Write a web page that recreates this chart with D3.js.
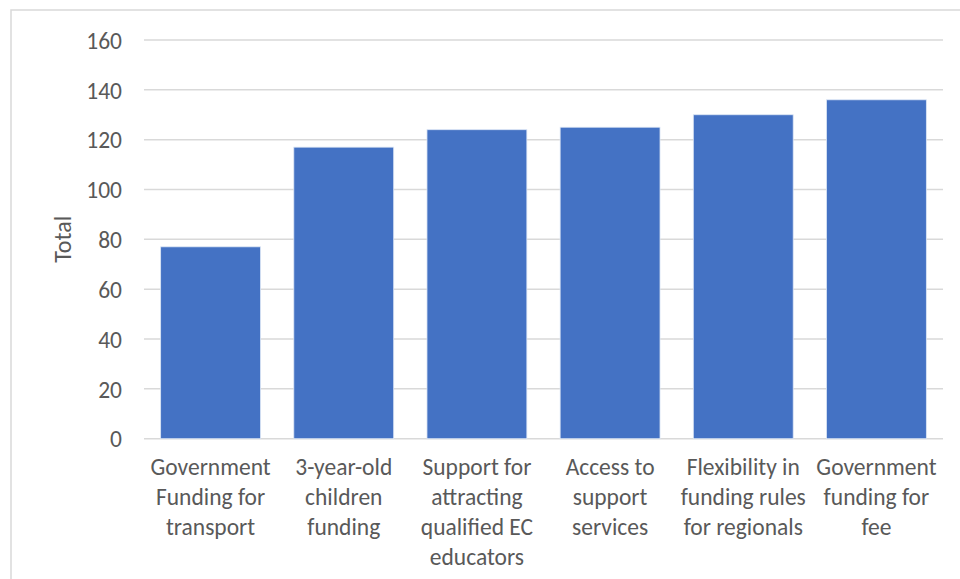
<!DOCTYPE html>
<html>
<head>
<meta charset="utf-8">
<script src="https://cdn.jsdelivr.net/npm/d3@7"></script>
<style>
    body { margin: 0; background: #fff; }
    svg text { font-family: Calibri, Carlito, Lato, "Open Sans", sans-serif; fill: #595959; }
</style>
</head>
<body>
<div class="chart"></div>
<script>
const categories = [
    ["Government", "Funding for", "transport"],
    ["3-year-old", "children", "funding"],
    ["Support for", "attracting", "qualified EC", "educators"],
    ["Access to", "support", "services"],
    ["Flexibility in", "funding rules", "for regionals"],
    ["Government", "funding for", "fee"]
];
const totals = [77, 117, 124, 125, 130, 136];
const yTicks = [0, 20, 40, 60, 80, 100, 120, 140, 160];

const svgW = 960;
const svgH = 579;
const margin = {top: 40, right: 17, left: 144, bottom: 141};

const svg = d3.select("div.chart")
    .append("svg")
        .attr("width", svgW)
        .attr("height", svgH);

// chart frame
svg.append("rect")
    .attr("x", 11)
    .attr("y", 10)
    .attr("width", svgW + 20)
    .attr("height", svgH + 20)
    .attr("fill", "none")
    .attr("stroke", "#d9d9d9")
    .attr("stroke-width", 1.5);

let x = d3.scaleBand()
    .domain(d3.range(categories.length))
    .range([margin.left, svgW - margin.right])
    .paddingInner(0.25)
    .paddingOuter(0.125);

let y = d3.scaleLinear()
    .domain([0, 160])
    .range([svgH - margin.bottom + 0.7, margin.top]);

// gridlines
svg.append("g")
    .selectAll("line")
    .data(yTicks)
    .join("line")
    .attr("x1", margin.left)
    .attr("x2", svgW - margin.right)
    .attr("y1", d => y(d))
    .attr("y2", d => y(d))
    .attr("stroke", "#d9d9d9")
    .attr("stroke-width", 1.5);

// bars
svg.append("g")
    .selectAll("rect")
    .data(totals)
    .join("rect")
    .attr("x", (d, i) => x(i))
    .attr("y", d => y(d))
    .attr("width", x.bandwidth())
    .attr("height", d => y(0) - y(d))
    .attr("fill", "#4472c4")
    .attr("stroke", "#dce6f5")
    .attr("stroke-width", 0.8);

// y axis
let yAxis = svg.append("g")
    .attr("transform", `translate(${margin.left - 22},0)`)
    .call(d3.axisLeft(y).tickValues(yTicks).tickSize(0).tickPadding(0));
yAxis.select(".domain").remove();
yAxis.selectAll("text")
    .attr("font-size", 23.5)
    .attr("font-family", null)
    .attr("dy", "0.35em");

// x labels
let xLabels = svg.append("g")
    .selectAll("text")
    .data(categories)
    .join("text")
    .attr("text-anchor", "middle")
    .attr("font-size", 23.5)
    .attr("x", (d, i) => x(i) + x.bandwidth() / 2)
    .attr("y", 475);
xLabels.selectAll("tspan")
    .data(d => d)
    .join("tspan")
    .attr("x", function() { return this.parentNode.getAttribute("x"); })
    .attr("dy", (d, i) => i === 0 ? 0 : 30)
    .text(d => d);

// axis title
svg.append("text")
    .attr("transform", `translate(71,${(y(0) + y(160)) / 2}) rotate(-90)`)
    .attr("text-anchor", "middle")
    .attr("font-size", 24)
    .text("Total");
</script>
</body>
</html>
